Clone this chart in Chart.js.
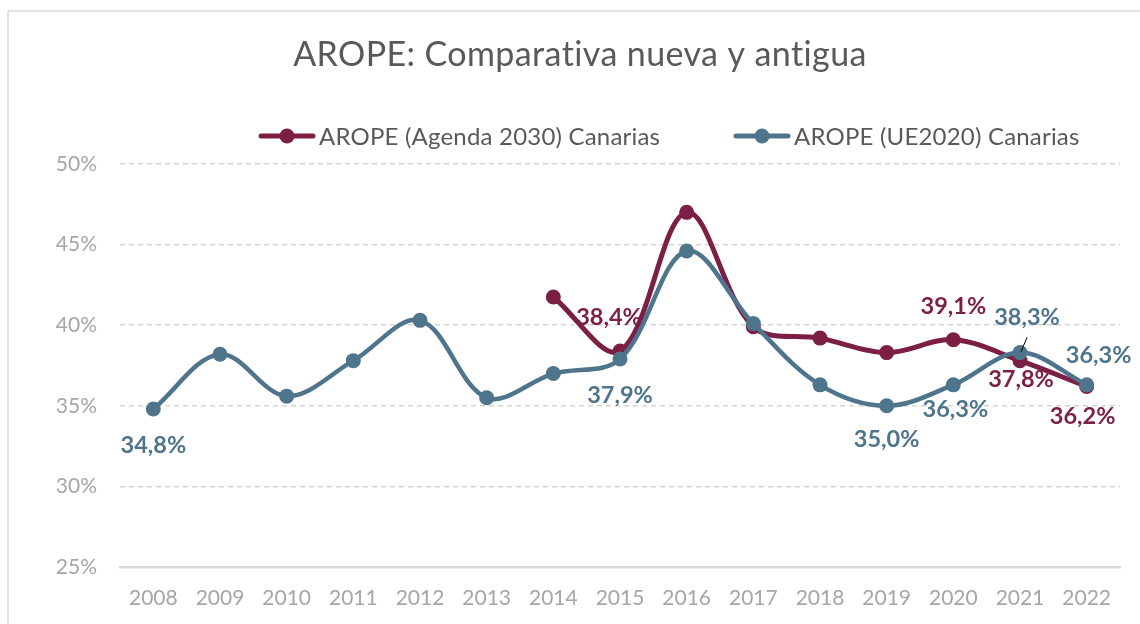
<!DOCTYPE html>
<html lang="es">
<head>
<meta charset="UTF-8">
<title>AROPE: Comparativa nueva y antigua</title>
<script src="https://cdn.jsdelivr.net/npm/chart.js"></script>
<style>
  html, body { margin: 0; padding: 0; background: #fff; }
</style>
</head>
<body>
<canvas id="grafico" width="1140" height="624"></canvas>

<script>
// datos
const anios = ['2008', '2009', '2010', '2011', '2012', '2013', '2014', '2015',
               '2016', '2017', '2018', '2019', '2020', '2021', '2022'];
const aropeAgenda = [null, null, null, null, null, null, 41.75, 38.4,
                     47.0, 39.9, 39.2, 38.3, 39.1, 37.8, 36.2];
const aropeUE = [34.8, 38.2, 35.6, 37.8, 40.3, 35.5, 37.0, 37.9,
                 44.6, 40.1, 36.3, 35.0, 36.3, 38.3, 36.3];
const ticksY = [25, 30, 35, 40, 45, 50];

const titulo = 'AROPE: Comparativa nueva y antigua';
const nombreAgenda = 'AROPE (Agenda 2030) Canarias';
const nombreUE = 'AROPE (UE2020) Canarias';

const rojo = '#7b1f45';
const azul = '#4e758c';
const fuente = 'Lato, "Open Sans", sans-serif';

// etiquetas que se muestran: indice del año -> desplazamiento
const etiquetasUE = { 0: [0, 36], 7: [0, 36], 11: [0, 34], 12: [2, 25], 13: [7, -35], 14: [12, -29] };
const etiquetasAgenda = { 7: [-11, -34], 12: [0, -33], 13: [1, 19], 14: [-4, 30] };

function fmt(v) {
    return v.toFixed(1).replace('.', ',') + '%';
}

const extras = {
    id: 'extras',
    beforeDraw(chart) {
        const ctx = chart.ctx;
        ctx.save();
        ctx.strokeStyle = '#d9d9d9';
        ctx.lineWidth = 1.5;
        ctx.strokeRect(8, 11, 1200, 700);
        ctx.restore();
    },
    afterDraw(chart) {
        const ctx = chart.ctx;
        ctx.save();
        // titulo
        ctx.fillStyle = '#595959';
        ctx.font = '34px ' + fuente;
        ctx.letterSpacing = '0.4px';
        ctx.textAlign = 'center';
        ctx.textBaseline = 'middle';
        ctx.fillText(titulo, 580, 55);

        // leyenda
        ctx.font = '24px ' + fuente;
        ctx.letterSpacing = '0.2px';
        ctx.textAlign = 'left';
        const items = [[nombreAgenda, rojo, 259], [nombreUE, azul, 734]];
        items.forEach(([txt, col, x]) => {
            ctx.strokeStyle = col;
            ctx.lineWidth = 5;
            ctx.lineCap = 'round';
            ctx.beginPath();
            ctx.moveTo(x + 2, 136);
            ctx.lineTo(x + 54, 136);
            ctx.stroke();
            ctx.fillStyle = col;
            ctx.beginPath();
            ctx.arc(x + 28, 136, 7.5, 0, Math.PI * 2);
            ctx.fill();
            ctx.fillStyle = '#595959';
            ctx.fillText(txt, x + 60, 137);
        });

        // etiquetas de datos
        ctx.font = 'bold 23.5px ' + fuente;
        ctx.letterSpacing = '0px';
        ctx.textAlign = 'center';
        const pintar = (idx, valores, mapa, col) => {
            const meta = chart.getDatasetMeta(idx);
            Object.keys(mapa).forEach(k => {
                const p = meta.data[k];
                const [dx, dy] = mapa[k];
                ctx.fillStyle = col;
                ctx.fillText(fmt(valores[k]), p.x + dx, p.y + dy);
            });
        };
        pintar(0, aropeAgenda, etiquetasAgenda, rojo);
        pintar(1, aropeUE, etiquetasUE, azul);

        // linea guia de 38,3%
        const p = chart.getDatasetMeta(1).data[13];
        ctx.strokeStyle = '#000';
        ctx.lineWidth = 1;
        ctx.beginPath();
        ctx.moveTo(p.x + 7, p.y - 15);
        ctx.lineTo(p.x + 1, p.y - 1);
        ctx.stroke();
        ctx.restore();
    }
};

new Chart(document.getElementById('grafico'), {
    type: 'line',
    data: {
        labels: anios,
        datasets: [{
            label: nombreAgenda,
            data: aropeAgenda,
            borderColor: rojo,
            backgroundColor: rojo,
            borderWidth: 5,
            pointRadius: 7.5,
            pointBorderWidth: 0,
            tension: 0.35,
            order: 1
        }, {
            label: nombreUE,
            data: aropeUE,
            borderColor: azul,
            backgroundColor: azul,
            borderWidth: 4.5,
            pointRadius: 7.5,
            pointBorderWidth: 0,
            tension: 0.35,
            order: 0
        }]
    },
    options: {
        responsive: false,
        animation: false,
        devicePixelRatio: 1,
        layout: { padding: { left: 8, right: 20, top: 164, bottom: 0 } },
        plugins: {
            legend: { display: false },
            title: { display: false },
            tooltip: { enabled: false }
        },
        scales: {
            x: {
                offset: true,
                afterFit(s) { s.height = 57; },
                grid: { display: false, drawTicks: false },
                border: { display: true, color: '#d9d9d9', width: 2.5 },
                ticks: { color: '#a6a6a6', font: { family: fuente, size: 21 }, padding: 19, maxRotation: 0 }
            },
            y: {
                min: 25,
                max: 50,
                afterFit(s) { s.width = 112; },
                afterBuildTicks(s) { s.ticks = ticksY.map(v => ({ value: v })); },
                grid: { color: '#d4d4d4', lineWidth: 1.5, drawTicks: false },
                border: { display: false, dash: [5, 4] },
                ticks: {
                    color: '#a6a6a6',
                    font: { family: fuente, size: 21 },
                    padding: 23,
                    callback: v => v + '%'
                }
            }
        }
    },
    plugins: [extras]
});
</script>
</body>
</html>
